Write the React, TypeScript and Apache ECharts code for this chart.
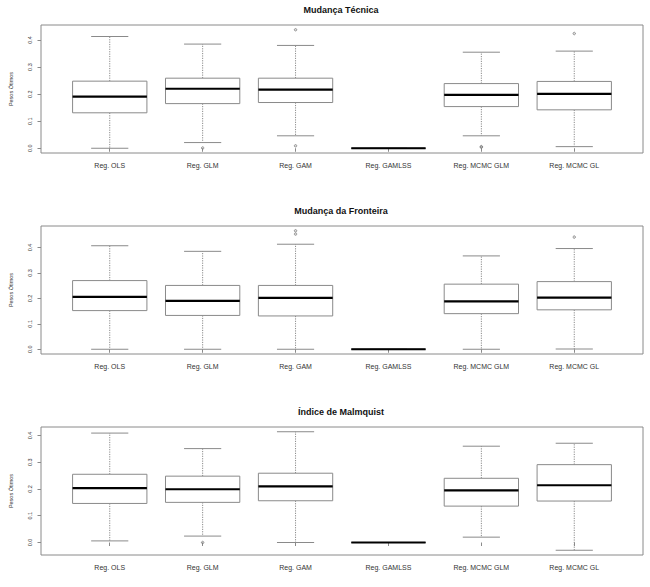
import React, { useEffect, useRef } from "react";
import * as echarts from "echarts";

const categories = ["Reg. OLS", "Reg. GLM", "Reg. GAM", "Reg. GAMLSS", "Reg. MCMC GLM", "Reg. MCMC GL"];
const panelTitles = ["Mudança Técnica", "Mudança da Fronteira", "Índice de Malmquist"];
const yAxisTitle = "Pesos Ótimos";
const yTicks = [0, 0.1, 0.2, 0.3, 0.4];

// [lower whisker, Q1, median, Q3, upper whisker] for each category
const tecnicaBoxes = [
  [0.0, 0.131, 0.191, 0.248, 0.413],
  [0.021, 0.165, 0.22, 0.259, 0.385],
  [0.046, 0.169, 0.217, 0.259, 0.38],
  [0, 0, 0, 0, 0],
  [0.046, 0.154, 0.197, 0.239, 0.355],
  [0.006, 0.142, 0.201, 0.247, 0.359],
];
// [category number (1-based), value]
const tecnicaOutliers = [
  [2, 0.001],
  [3, 0.438],
  [3, 0.009],
  [5, 0.004],
  [5, 0.006],
  [6, 0.424],
];

const fronteiraBoxes = [
  [0.0, 0.152, 0.206, 0.27, 0.407],
  [0.0, 0.133, 0.19, 0.251, 0.385],
  [0.0, 0.131, 0.202, 0.251, 0.413],
  [0, 0, 0, 0, 0],
  [0.0, 0.14, 0.188, 0.256, 0.367],
  [0.001, 0.155, 0.203, 0.266, 0.396],
];
const fronteiraOutliers = [
  [3, 0.466],
  [3, 0.453],
  [6, 0.441],
];

const malmquistBoxes = [
  [0.006, 0.146, 0.203, 0.255, 0.409],
  [0.024, 0.15, 0.199, 0.248, 0.351],
  [0.0, 0.156, 0.21, 0.259, 0.414],
  [0, 0, 0, 0, 0],
  [0.02, 0.136, 0.195, 0.24, 0.36],
  [-0.029, 0.155, 0.214, 0.291, 0.371],
];
const malmquistOutliers = [[2, 0.0]];

const panelBoxes = [tecnicaBoxes, fronteiraBoxes, malmquistBoxes];
const panelOutliers = [tecnicaOutliers, fronteiraOutliers, malmquistOutliers];

const FONT = "'Liberation Sans', Arial, Helvetica, sans-serif";
const GRAY = "#8a8a8a";

export default function App() {
  const ref = useRef<HTMLDivElement>(null);

  useEffect(() => {
    document.body.style.margin = "0";
    if (!ref.current) return;
    const chart = echarts.init(ref.current, null, { renderer: "svg" });

    const panelTops = [25, 226, 427];
    const panelHeight = 128;

    const grids: any[] = [];
    const xAxes: any[] = [];
    const yAxes: any[] = [];
    const titles: any[] = [];
    const series: any[] = [];

    panelBoxes.forEach((boxes, p) => {
      const outliers = panelOutliers[p];
      const allVals = [...boxes.flat(), ...outliers.map((o) => o[1])];
      const dMin = Math.min(...allVals);
      const dMax = Math.max(...allVals);
      const ext = (dMax - dMin) * 0.04;

      grids.push({
        left: 39,
        right: 7,
        top: panelTops[p],
        height: panelHeight,
        show: true,
        borderColor: GRAY,
        borderWidth: 1,
        backgroundColor: "transparent",
        containLabel: false,
      });

      xAxes.push({
        type: "value",
        gridIndex: p,
        min: 0.26,
        max: 6.74,
        axisLine: { show: false },
        splitLine: { show: false },
        axisTick: {
          show: true,
          length: 3.5,
          customValues: categories.map((_, i) => i + 1),
          lineStyle: { color: GRAY, width: 1 },
        },
        axisLabel: {
          show: true,
          customValues: categories.map((_, i) => i + 1),
          formatter: (v: number) => categories[Math.round(v) - 1] ?? "",
          fontSize: 7,
          fontFamily: FONT,
          color: "#333",
          margin: 8.5,
        },
      });

      yAxes.push({
        type: "value",
        gridIndex: p,
        min: dMin - ext,
        max: dMax + ext,
        name: yAxisTitle,
        nameLocation: "middle",
        nameGap: 27,
        nameTextStyle: { fontSize: 5.5, fontFamily: FONT, color: "#333" },
        axisLine: { show: false },
        splitLine: { show: false },
        axisTick: {
          show: true,
          length: 3.5,
          customValues: yTicks,
          lineStyle: { color: GRAY, width: 1 },
        },
        axisLabel: {
          show: true,
          rotate: 90,
          customValues: yTicks,
          formatter: (v: number) => v.toFixed(1),
          fontSize: 5.5,
          fontFamily: FONT,
          color: "#333",
          margin: 8.5,
        },
      });

      titles.push({
        text: panelTitles[p],
        left: 341,
        textAlign: "center",
        top: panelTops[p] - 20,
        padding: 0,
        textStyle: { fontSize: 9, fontWeight: "bold", fontFamily: FONT, color: "#111" },
      });

      series.push({
        type: "custom",
        xAxisIndex: p,
        yAxisIndex: p,
        encode: { x: 0, y: [1, 2, 3, 4, 5] },
        data: boxes.map((b, i) => [i + 1, ...b]),
        z: 2,
        renderItem: (params: any, api: any) => {
          const x = api.value(0);
          const lo = api.value(1);
          const q1 = api.value(2);
          const med = api.value(3);
          const q3 = api.value(4);
          const hi = api.value(5);
          const bw = api.size([1, 0])[0] * 0.8;
          const cx = api.coord([x, med])[0];
          const yy = (v: number) => api.coord([x, v])[1];
          const dashed = { stroke: GRAY, lineWidth: 1, lineDash: [1.2, 1.2], fill: null };
          const solid = { stroke: GRAY, lineWidth: 1, fill: null };
          return {
            type: "group",
            children: [
              { type: "line", shape: { x1: cx, y1: yy(q3), x2: cx, y2: yy(hi) }, style: dashed },
              { type: "line", shape: { x1: cx, y1: yy(q1), x2: cx, y2: yy(lo) }, style: dashed },
              { type: "line", shape: { x1: cx - bw / 4, y1: yy(hi), x2: cx + bw / 4, y2: yy(hi) }, style: solid },
              { type: "line", shape: { x1: cx - bw / 4, y1: yy(lo), x2: cx + bw / 4, y2: yy(lo) }, style: solid },
              {
                type: "rect",
                shape: { x: cx - bw / 2, y: yy(q3), width: bw, height: yy(q1) - yy(q3) },
                style: { stroke: GRAY, lineWidth: 1, fill: "#ffffff" },
              },
              {
                type: "line",
                shape: { x1: cx - bw / 2, y1: yy(med), x2: cx + bw / 2, y2: yy(med) },
                style: { stroke: "#000000", lineWidth: 2.2 },
              },
            ],
          };
        },
      });

      series.push({
        type: "scatter",
        xAxisIndex: p,
        yAxisIndex: p,
        data: outliers,
        symbol: "circle",
        symbolSize: 2.5,
        itemStyle: { color: "rgba(140,140,140,0.35)", borderColor: "#777", borderWidth: 0.9 },
        z: 5,
      });
    });

    chart.setOption({
      animation: false,
      backgroundColor: "#ffffff",
      title: titles,
      grid: grids,
      xAxis: xAxes,
      yAxis: yAxes,
      series,
    });

    return () => chart.dispose();
  }, []);

  return <div ref={ref} style={{ width: 650, height: 587 }} />;
}
